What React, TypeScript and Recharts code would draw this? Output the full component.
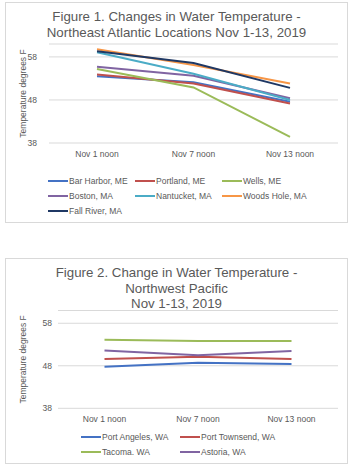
import { LineChart, Line, XAxis, YAxis, CartesianGrid, Legend } from 'recharts';

const days = ['Nov 1 noon', 'Nov 7 noon', 'Nov 13 noon'];
const yTicks = [38, 48, 58];

// Figure 1 - Northeast Atlantic
const barHarbor = [53.5, 52.1, 47.6];
const portland = [53.9, 51.8, 47.2];
const wells = [55.2, 50.9, 39.4];
const boston = [55.7, 53.6, 48.4];
const nantucket = [59.1, 54.1, 48.0];
const woodsHole = [59.8, 56.1, 51.8];
const fallRiver = [59.3, 56.6, 50.8];

// Figure 2 - Northwest Pacific
const portAngeles = [47.8, 48.7, 48.4];
const portTownsend = [49.6, 50.1, 49.6];
const tacoma = [54.1, 53.8, 53.8];
const astoria = [51.6, 50.5, 51.5];

const atlanticSeries = [
  { key: 'barHarbor', name: 'Bar Harbor, ME', color: '#4472C4', values: barHarbor },
  { key: 'portland', name: 'Portland, ME', color: '#C0504D', values: portland },
  { key: 'wells', name: 'Wells, ME', color: '#9BBB59', values: wells },
  { key: 'boston', name: 'Boston, MA', color: '#8064A2', values: boston },
  { key: 'nantucket', name: 'Nantucket, MA', color: '#4BACC6', values: nantucket },
  { key: 'woodsHole', name: 'Woods Hole, MA', color: '#F79646', values: woodsHole },
  { key: 'fallRiver', name: 'Fall River, MA', color: '#1F3864', values: fallRiver },
];

const pacificSeries = [
  { key: 'portAngeles', name: 'Port Angeles, WA', color: '#4472C4', values: portAngeles },
  { key: 'portTownsend', name: 'Port Townsend, WA', color: '#C0504D', values: portTownsend },
  { key: 'tacoma', name: 'Tacoma. WA', color: '#9BBB59', values: tacoma },
  { key: 'astoria', name: 'Astoria, WA', color: '#8064A2', values: astoria },
];

type Series = { key: string; name: string; color: string; values: number[] };

const FONT = '"Liberation Sans", Arial, sans-serif';
const TEXT = '#595959';
const GRID = '#d9d9d9';

function toRows(series: Series[]) {
  return days.map((d, i) => {
    const row: Record<string, string | number> = { day: d };
    series.forEach(s => { row[s.key] = s.values[i]; });
    return row;
  });
}

function LegendGrid({ series, itemWidth, width }: { series: Series[]; itemWidth: number; width: number }) {
  return (
    <div style={{ display: 'flex', flexWrap: 'wrap', width }}>
      {series.map(s => (
        <div key={s.key} style={{ width: itemWidth, height: 15, display: 'flex', alignItems: 'center' }}>
          <div style={{ width: 20, height: 2, background: s.color, marginRight: 1 }} />
          <span style={{ fontSize: 8.5, color: TEXT, fontFamily: FONT, whiteSpace: 'nowrap' }}>{s.name}</span>
        </div>
      ))}
    </div>
  );
}

function TempChart(props: {
  series: Series[];
  title: string[];
  top: number;
  height: number;
  margin: { top: number; right: number; bottom: number; left: number };
  yAxisWidth: number;
  yTickMargin: number;
  bandPad: number;
  legendTop: number;
  legendLeft: number;
  legendItemWidth: number;
  legendCols: number;
}) {
  const { series, title, top, height, margin, yAxisWidth, yTickMargin, bandPad, legendTop, legendLeft, legendItemWidth, legendCols } = props;
  const data = toRows(series);
  const legendWidth = legendItemWidth * legendCols;
  return (
    <div
      style={{
        position: 'absolute',
        left: 5,
        top,
        width: 341,
        height,
        border: `1px solid ${GRID}`,
        background: '#fff',
      }}
    >
      <div
        style={{
          position: 'absolute',
          left: 0,
          top: 6,
          width: 341,
          textAlign: 'center',
          fontFamily: FONT,
          fontSize: 13.3,
          lineHeight: '15.5px',
          color: TEXT,
          zIndex: 2,
        }}
      >
        {title.map(t => (
          <div key={t}>{t}</div>
        ))}
      </div>
      <LineChart width={341} height={height} data={data} margin={margin}>
        <CartesianGrid vertical={false} stroke={GRID} />
        <XAxis
          dataKey="day"
          axisLine={false}
          tickLine={false}
          height={20}
          padding={{ left: bandPad, right: bandPad }}
          tick={{ fontSize: 8.5, fill: TEXT, fontFamily: FONT }}
          tickMargin={2}
        />
        <YAxis
          domain={[38, 61]}
          ticks={yTicks}
          axisLine={false}
          tickLine={false}
          width={yAxisWidth}
          tickMargin={yTickMargin}
          tick={{ fontSize: 8.5, fill: TEXT, fontFamily: FONT }}
          label={({ viewBox }: any) => (
            <text
              x={17}
              y={viewBox.y + viewBox.height / 2}
              transform={`rotate(-90 17 ${viewBox.y + viewBox.height / 2})`}
              textAnchor="middle"
              dominantBaseline="central"
              fontSize={8.5}
              fill={TEXT}
              fontFamily={FONT}
            >
              Temperature degrees F
            </text>
          )}
        />
        <Legend
          layout="vertical"
          align="center"
          verticalAlign="middle"
          wrapperStyle={{ top: legendTop, left: legendLeft, width: legendWidth }}
          content={() => <LegendGrid series={series} itemWidth={legendItemWidth} width={legendWidth} />}
        />
        {series.map(s => (
          <Line
            key={s.key}
            type="linear"
            dataKey={s.key}
            name={s.name}
            stroke={s.color}
            strokeWidth={2}
            dot={false}
            isAnimationActive={false}
          />
        ))}
      </LineChart>
    </div>
  );
}

export default function App() {
  return (
    <div style={{ position: 'absolute', left: 0, top: 0, width: 350, height: 465, background: '#fff' }}>
      <TempChart
        series={atlanticSeries}
        title={['Figure 1. Changes in Water Temperature -', 'Northeast Atlantic Locations Nov 1-13, 2019']}
        top={2}
        height={219}
        margin={{ top: 41, right: 9, bottom: 59, left: 0 }}
        yAxisWidth={43}
        yTickMargin={6}
        bandPad={48}
        legendTop={170}
        legendLeft={42}
        legendItemWidth={87}
        legendCols={3}
      />
      <TempChart
        series={pacificSeries}
        title={['Figure 2. Change in Water Temperature -', 'Northwest Pacific', 'Nov 1-13, 2019']}
        top={258}
        height={204}
        margin={{ top: 51.5, right: 9, bottom: 34.7, left: 0 }}
        yAxisWidth={52}
        yTickMargin={0}
        bandPad={46.5}
        legendTop={170.5}
        legendLeft={75}
        legendItemWidth={99}
        legendCols={2}
      />
    </div>
  );
}
